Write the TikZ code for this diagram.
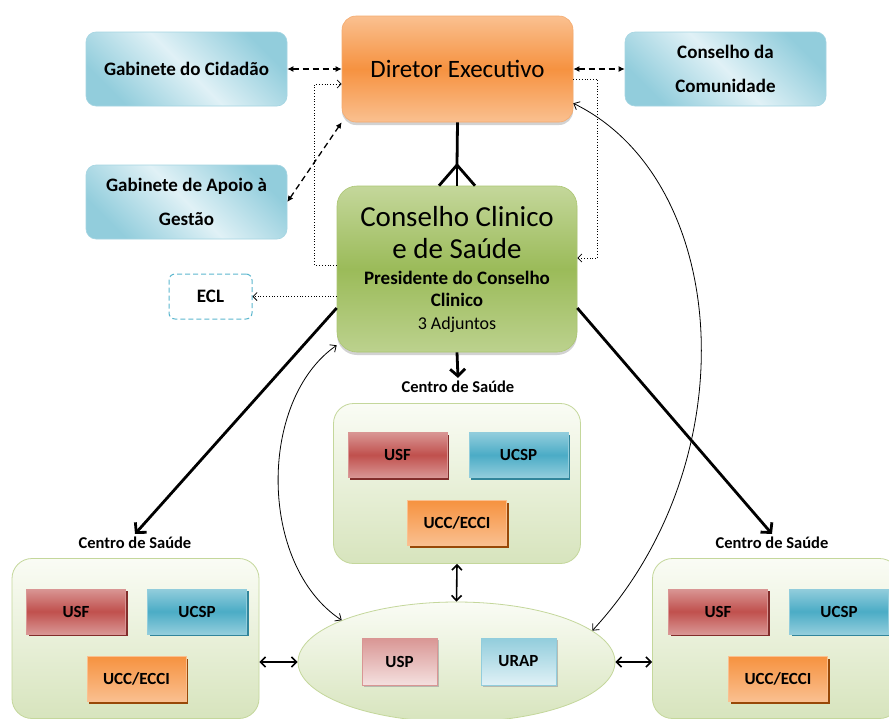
\documentclass[tikz,border=0pt]{standalone}
\usepackage{fontspec}
\setmainfont{Carlito}
\usetikzlibrary{shapes.geometric,shadows,arrows.meta}
\definecolor{azulc}{RGB}{224,241,246}
\definecolor{azule}{RGB}{146,205,220}
\definecolor{azulb}{RGB}{165,213,226}
\definecolor{azulm}{RGB}{75,172,198}
\definecolor{azulme}{RGB}{49,133,155}
\definecolor{laranja}{RGB}{246,146,64}
\definecolor{laranjac}{RGB}{250,192,144}
\definecolor{laranjab}{RGB}{244,170,110}
\definecolor{laranjae}{RGB}{152,72,7}
\definecolor{verde}{RGB}{155,187,89}
\definecolor{verdec}{RGB}{196,215,155}
\definecolor{verdeb}{RGB}{172,198,115}
\definecolor{verdefundo}{RGB}{215,228,189}
\definecolor{verdebranco}{RGB}{250,252,245}
\definecolor{vermelho}{RGB}{192,80,77}
\definecolor{vermelhoc}{RGB}{217,150,148}
\definecolor{vermelhoe}{RGB}{130,45,43}
\definecolor{rosa}{RGB}{244,224,223}
\definecolor{eclcor}{RGB}{93,184,207}

\begin{document}
\begin{tikzpicture}[x=1pt,y=-1pt,
  caixa/.style={rounded corners=10pt, draw=azulb, line width=0.6pt,
    top color=azule, bottom color=azule, middle color=azulc, shading angle=-45,
    minimum width=201pt, minimum height=74pt, align=center, inner sep=0pt,
    font=\bfseries\fontsize{19}{34}\selectfont},
  diretor/.style={rounded corners=14pt, draw=laranjab, line width=0.6pt,
    top color=laranjac, bottom color=laranjac, middle color=laranja,
    minimum width=231pt, minimum height=106pt, inner sep=0pt,
    drop shadow={shadow xshift=0pt, shadow yshift=-3pt, opacity=0.35},
    font=\fontsize{25}{28}\selectfont},
  conselho/.style={rounded corners=20pt, draw=verdeb, line width=0.6pt,
    top color=verdec, bottom color=verdec!80!verde, middle color=verde,
    minimum width=240pt, minimum height=166pt, inner sep=0pt, align=center,
    drop shadow={shadow xshift=0pt, shadow yshift=-3pt, opacity=0.35},
    font=\fontsize{19}{22}\selectfont},
  eclbox/.style={rounded corners=6pt, draw=eclcor, dash pattern=on 5pt off 3pt,
    line width=1pt, fill=white, minimum width=83pt, minimum height=45pt,
    font=\bfseries\fontsize{19}{22}\selectfont},
  centro/.style={rounded corners=20pt, draw=verdec, line width=0.8pt,
    top color=verdebranco, bottom color=verdefundo,
    minimum width=247pt, minimum height=160pt},
  rotulo/.style={inner sep=3pt, font=\bfseries\fontsize{16.5}{18}\selectfont},
  unidade/.style={minimum width=99pt, minimum height=45pt, inner sep=0pt,
    line width=0.6pt, font=\bfseries\fontsize{17}{20}\selectfont},
  usf/.style={unidade, draw=vermelhoc, top color=vermelhoc, bottom color=vermelhoc,
    middle color=vermelho, drop shadow={shadow xshift=2pt, shadow yshift=-2pt,
    fill=vermelhoe, opacity=1}},
  ucsp/.style={unidade, draw=azule, top color=azule, bottom color=azule,
    middle color=azulm, drop shadow={shadow xshift=2pt, shadow yshift=-2pt,
    fill=azulme, opacity=1}},
  ucc/.style={unidade, draw=laranjac, top color=laranja, bottom color=laranjac,
    drop shadow={shadow xshift=2pt, shadow yshift=-2pt, fill=laranjae, opacity=1}},
  elipse/.style={ellipse, draw=verdec, line width=0.8pt, top color=verdebranco,
    bottom color=verdefundo, minimum width=317pt, minimum height=120pt},
  pequena/.style={minimum width=75pt, minimum height=47pt, inner sep=0pt,
    line width=0.6pt, font=\bfseries\fontsize{17}{20}\selectfont, shading angle=45,
    drop shadow={shadow xshift=2pt, shadow yshift=-2pt, fill=black!40, opacity=0.6}},
  tracejado/.style={dash pattern=on 6pt off 4pt, line width=1.3pt, <->,
    >={Latex[length=6pt,width=6pt]}},
  pontilhado/.style={dotted, line width=0.8pt, ->, >={Straight Barb[length=4pt,width=8pt]}},
  curva/.style={line width=0.8pt, <->, >={Straight Barb[length=5pt,width=9pt]}},
  duplo/.style={line width=1.6pt, <->, >={Straight Barb[length=5pt,width=10pt]}},
  grosso/.style={line width=2.8pt},
  seta/.style={grosso, ->, >={Straight Barb[length=7pt,width=15pt]}}]
\useasboundingbox (0,0) rectangle (889,718);
\clip (0,0) rectangle (889,718);
\fill[white] (0,0) rectangle (889,718);
% topo
\node[caixa] (gabcid) at (186.5,69) {Gabinete do Cidadão};
\node[diretor] (dir) at (457.5,69) {Diretor Executivo};
\node[caixa] (concom) at (725.5,69) {Conselho da\\Comunidade};
\node[caixa] (gabapo) at (186.5,202) {Gabinete de Apoio à\\Gestão};
\node[conselho] (ccs) at (457,269) {\fontsize{29}{34}\selectfont Conselho Clinico\\[10pt]
  \fontsize{29}{34}\selectfont e de Saúde\\[4pt]
  \bfseries Presidente do Conselho\\
  \bfseries Clinico\\[1pt]
  \fontsize{18}{22}\selectfont 3 Adjuntos};
\node[eclbox] (ecl) at (210.5,296.5) {ECL};
% centros de saude
\node[centro] (csC) at (457,483.5) {};
\node[rotulo] (lblC) at (458,387) {Centro de Saúde};
\node[usf] (usfC) at (397.5,455) {USF};
\node[ucsp] (ucspC) at (518.5,455) {UCSP};
\node[ucc] (uccC) at (457,523) {UCC/ECCI};
\node[centro] (csE) at (135.5,638.5) {};
\node[rotulo] (lblE) at (135,543) {Centro de Saúde};
\node[usf] (usfE) at (76,611.5) {USF};
\node[ucsp] (ucspE) at (197,611.5) {UCSP};
\node[ucc] (uccE) at (136.5,679) {UCC/ECCI};
\node[centro] (csD) at (776,638.5) {};
\node[rotulo] (lblD) at (772,543) {Centro de Saúde};
\node[usf] (usfD) at (718,611.5) {USF};
\node[ucsp] (ucspD) at (839,611.5) {UCSP};
\node[ucc] (uccD) at (778,679) {UCC/ECCI};
% USP e URAP
\node[elipse] (elipse) at (456.5,662) {};
\node[pequena, draw=vermelhoc, top color=vermelhoc, bottom color=rosa] (usp) at (399.5,661.5) {USP};
\node[pequena, draw=azule, top color=azule, bottom color=azulc] (urap) at (518.5,661.5) {URAP};
% ligacoes
\draw[tracejado] (gabcid) -- (dir);
\draw[tracejado] (dir) -- (concom);
\draw[tracejado] (gabapo.east) -- (dir.south west);
\draw[pontilhado] ([yshift=4pt]ccs.west) -- ++(-22,0) |- ([yshift=-15pt]dir.west);
\draw[pontilhado] ([yshift=-10pt]dir.east) -- ++(24,0) |- ([yshift=11pt]ccs.east);
\draw[pontilhado] (ccs.west |- ecl.east) -- (ecl.east);
\coordinate (pe) at (457,165);
\draw[grosso] (dir.south) -- (pe);
\draw[grosso] (pe) -- ([xshift=-18pt]ccs.north);
\draw[grosso] (pe) -- (ccs.north);
\draw[grosso] (pe) -- ([xshift=18pt]ccs.north);
\draw[seta] (ccs.south) -- (lblC.north);
\draw[seta] ([yshift=-39pt]ccs.west) -- (lblE.north);
\draw[seta] ([yshift=-39pt]ccs.east) -- (lblD.north);
\draw[curva] (elipse.160) .. controls (258,565) and (258,400) .. ([yshift=7pt]ccs.south west);
\draw[curva] ([yshift=19pt]dir.south east) .. controls (730,180) and (750,460) .. (elipse.13);
\draw[duplo] (csC.south) -- (elipse.north);
\draw[duplo] (csE.east |- elipse.west) -- (elipse.west);
\draw[duplo] (elipse.east) -- (csD.west |- elipse.east);
\end{tikzpicture}
\end{document}
